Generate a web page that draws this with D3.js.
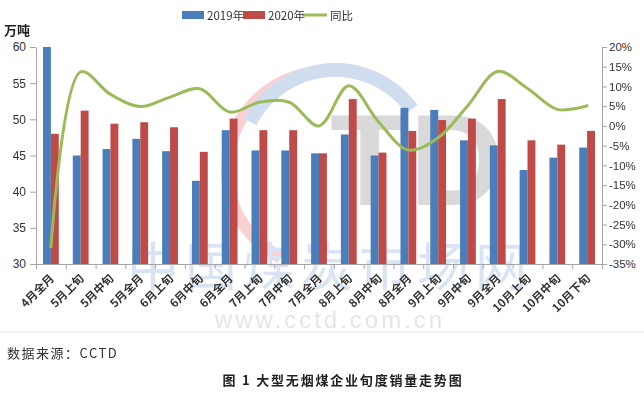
<!DOCTYPE html>
<html>
<head>
<meta charset="utf-8">
<script src="https://cdn.jsdelivr.net/npm/d3@7"></script>
<style>
  body { margin: 0; background: #fff; }
  svg { font-family: "Liberation Sans", Arial, "Noto Sans CJK SC", sans-serif; }
</style>
</head>
<body>
<div id="chart"></div>
<script>
// data
var categories = ["4月全月", "5月上旬", "5月中旬", "5月全月", "6月上旬", "6月中旬", "6月全月",
    "7月上旬", "7月中旬", "7月全月", "8月上旬", "8月中旬", "8月全月", "9月上旬", "9月中旬",
    "9月全月", "10月上旬", "10月中旬", "10月下旬"];
var sales2019 = [60, 45.0, 45.9, 47.3, 45.6, 41.5, 48.5, 45.7, 45.7, 45.3, 47.9, 45.0, 51.6, 51.3, 47.1, 46.4, 43.0, 44.7, 46.1];
var sales2020 = [48.0, 51.2, 49.4, 49.6, 48.9, 45.5, 50.1, 48.5, 48.5, 45.3, 52.8, 45.4, 48.4, 49.9, 50.1, 52.8, 47.1, 46.5, 48.4];
var yoy = [-30.7, 13.7, 8.0, 4.9, 7.3, 9.4, 3.5, 6.0, 6.0, 0.0, 10.2, 1.0, -6.1, -3.0, 5.2, 13.8, 9.5, 4.2, 5.1];
var leftTicks = [30, 35, 40, 45, 50, 55, 60];
var rightTicks = [-35, -30, -25, -20, -15, -10, -5, 0, 5, 10, 15, 20];
var seriesNames = ["2019年", "2020年", "同比"];

var svgWidth = 644;
var svgHeight = 393;
var plot = {left: 36, right: 602, top: 47, bottom: 264};

var blue = "#4a7ebb", red = "#be4b48", green = "#9bbb59";

var svg = d3.select("#chart")
    .append("svg")
    .attr("width", svgWidth)
    .attr("height", svgHeight);

// watermark, drawn first so it sits behind the bars
var wm = svg.append("g").attr("opacity", 0.22);
wm.append("path")
    .attr("d", d3.arc()({innerRadius: 92, outerRadius: 104, startAngle: Math.PI * 1.15, endAngle: Math.PI * 1.95}))
    .attr("transform", "translate(325,170)")
    .attr("fill", "#e8303a");
wm.append("path")
    .attr("d", d3.arc()({innerRadius: 88, outerRadius: 102, startAngle: Math.PI * 1.65, endAngle: Math.PI * 2.3}))
    .attr("transform", "translate(335,165)")
    .attr("fill", "#2a63b0");
wm.append("text")
    .attr("x", 330).attr("y", 205)
    .attr("font-size", 130).attr("font-weight", "bold")
    .attr("fill", "#555").attr("text-anchor", "start")
    .text("TD");
wm.append("text")
    .attr("x", 330).attr("y", 286)
    .attr("text-anchor", "middle")
    .attr("font-size", 52).attr("font-family", "Noto Sans CJK SC")
    .attr("fill", "#4d86c8")
    .attr("letter-spacing", 6)
    .text("中国煤炭市场网");
wm.append("text")
    .attr("x", 330).attr("y", 328)
    .attr("text-anchor", "middle")
    .attr("font-size", 24)
    .attr("fill", "#8a8a8a")
    .attr("letter-spacing", 3)
    .text("www.cctd.com.cn");

// scales
var x0 = d3.scaleBand().domain(categories).range([plot.left, plot.right]).padding(0);
var x1 = d3.scaleBand().domain(["2019", "2020"]).range([7, x0.bandwidth() - 7]);
var xEdge = d3.scaleLinear().domain([0, categories.length]).range([plot.left, plot.right]);
var yLeft = d3.scaleLinear().domain([30, 60]).range([plot.bottom, plot.top]);
var yRight = d3.scaleLinear().domain([-35, 20]).range([plot.bottom, plot.top]);

// bars
var groups = svg.append("g").selectAll("g")
    .data(categories)
    .enter()
    .append("g")
    .attr("transform", function(d) { return "translate(" + x0(d) + ",0)"; });

groups.append("rect")
    .attr("x", x1("2019"))
    .attr("width", x1.bandwidth())
    .attr("y", function(d, i) { return yLeft(Math.min(sales2019[i], 60)); })
    .attr("height", function(d, i) { return plot.bottom - yLeft(Math.min(sales2019[i], 60)); })
    .attr("fill", blue);

groups.append("rect")
    .attr("x", x1("2020"))
    .attr("width", x1.bandwidth())
    .attr("y", function(d, i) { return yLeft(sales2020[i]); })
    .attr("height", function(d, i) { return plot.bottom - yLeft(sales2020[i]); })
    .attr("fill", red);

// yoy line
var line = d3.line()
    .x(function(d, i) { return x0(categories[i]) + x0.bandwidth() / 2; })
    .y(function(d) { return yRight(d); })
    .curve(d3.curveCatmullRom.alpha(0.5));

svg.append("path")
    .datum(yoy)
    .attr("d", line)
    .attr("fill", "none")
    .attr("stroke", green)
    .attr("stroke-width", 3)
    .attr("stroke-linecap", "round");

// axes
function styleAxis(g) {
    g.selectAll(".domain").attr("stroke", "#a6a6a6");
    g.selectAll(".tick line").attr("stroke", "#a6a6a6");
    g.selectAll("text").attr("fill", "#333").attr("font-size", "12px");
}

svg.append("g")
    .attr("transform", "translate(" + plot.left + ",0)")
    .call(d3.axisLeft(yLeft).tickValues(leftTicks).tickSize(6).tickSizeOuter(0).tickPadding(4))
    .call(styleAxis);

svg.append("g")
    .attr("transform", "translate(" + plot.right + ",0)")
    .call(d3.axisRight(yRight).tickValues(rightTicks).tickSize(5).tickSizeOuter(0).tickPadding(2)
        .tickFormat(function(d) { return d + "%"; }))
    .call(styleAxis)
    .selectAll("text").attr("font-size", "11.5px");

svg.append("g")
    .attr("transform", "translate(0," + plot.bottom + ")")
    .call(d3.axisBottom(xEdge).tickValues(d3.range(categories.length + 1)).tickSize(5).tickSizeOuter(0).tickFormat(""))
    .call(styleAxis);

svg.append("g")
    .attr("transform", "translate(0," + plot.bottom + ")")
    .call(d3.axisBottom(x0).tickSize(0).tickPadding(0))
    .call(function(g) { g.select(".domain").remove(); })
    .selectAll("text")
    .attr("font-family", "Noto Sans CJK SC")
    .attr("font-weight", "bold")
    .attr("font-size", "11.5px")
    .attr("fill", "#333")
    .attr("text-anchor", "end")
    .attr("dy", null)
    .attr("transform", "translate(4,15) rotate(-45)");

// unit label
svg.append("text")
    .attr("x", 4).attr("y", 35)
    .attr("font-family", "Noto Sans CJK SC")
    .attr("font-weight", "bold")
    .attr("font-size", "13px")
    .attr("fill", "#222")
    .text("万吨");

// legend
var legend = svg.append("g").attr("font-family", "Noto Sans CJK SC").attr("font-size", "11.5px");
var legendX = [182, 243, 302];
var legendText = [207, 268, 330];
legend.append("rect").attr("x", legendX[0]).attr("y", 11).attr("width", 22).attr("height", 8).attr("fill", blue);
legend.append("rect").attr("x", legendX[1]).attr("y", 11).attr("width", 22).attr("height", 8).attr("fill", red);
legend.append("line").attr("x1", legendX[2]).attr("x2", legendX[2] + 25).attr("y1", 15).attr("y2", 15)
    .attr("stroke", green).attr("stroke-width", 3);
legend.selectAll("text.lg")
    .data(seriesNames)
    .enter()
    .append("text")
    .attr("class", "lg")
    .attr("x", function(d, i) { return legendText[i]; })
    .attr("y", 19.5)
    .attr("fill", "#333")
    .text(function(d) { return d; });

// frame line under the chart
svg.append("line")
    .attr("x1", 0).attr("x2", svgWidth)
    .attr("y1", 332).attr("y2", 332)
    .attr("stroke", "#ececec");

// source and caption
svg.append("text")
    .attr("x", 7).attr("y", 358)
    .attr("font-family", "Noto Sans CJK SC")
    .attr("font-size", "13px")
    .attr("fill", "#333")
    .attr("letter-spacing", 1.5)
    .text("数据来源：CCTD");

svg.append("text")
    .attr("x", 343).attr("y", 385)
    .attr("text-anchor", "middle")
    .attr("font-family", "Noto Sans CJK SC")
    .attr("font-weight", "bold")
    .attr("font-size", "13px")
    .attr("fill", "#222")
    .attr("letter-spacing", 1.8)
    .text("图 1 大型无烟煤企业旬度销量走势图");
</script>
</body>
</html>
